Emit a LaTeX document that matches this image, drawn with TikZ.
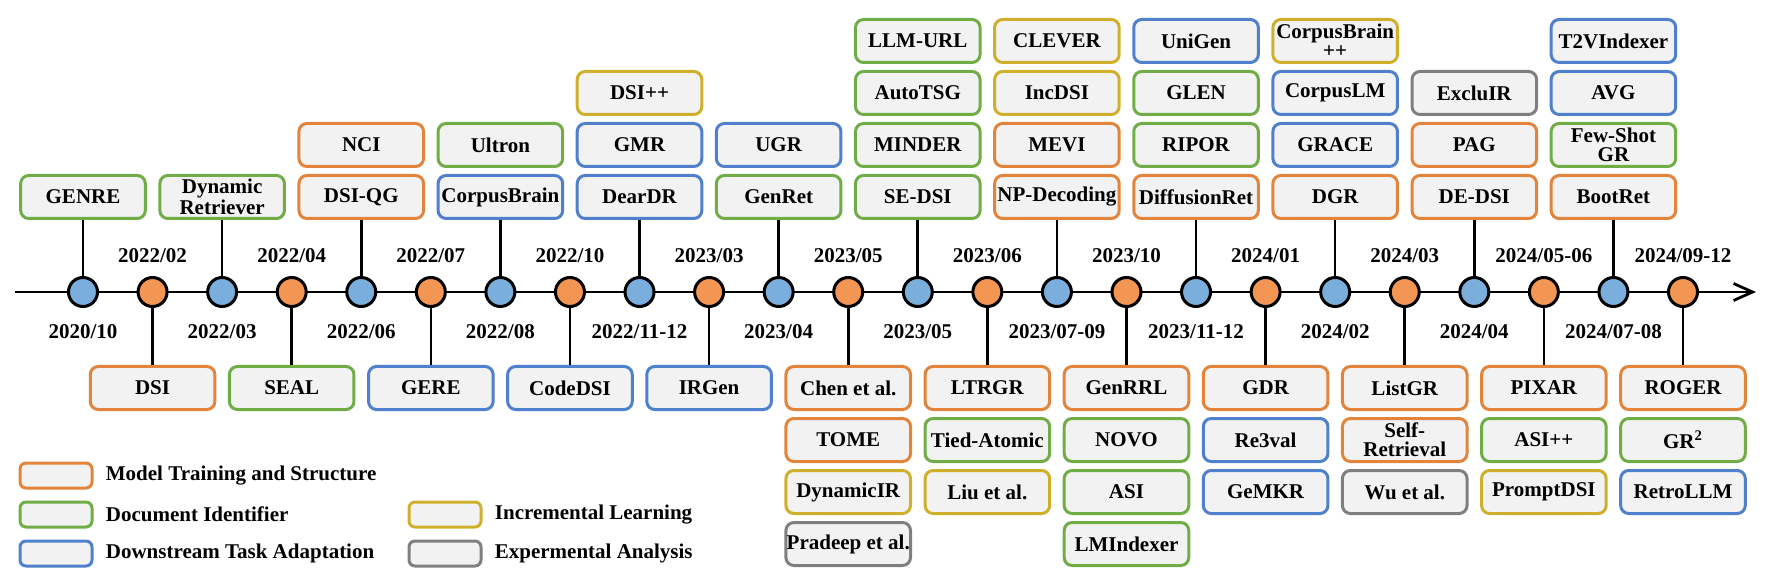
\documentclass[tikz,border=0pt]{standalone}
\usepackage{fontspec}
\setmainfont{Liberation Serif}
\usetikzlibrary{arrows.meta,positioning}

\definecolor{mtorange}{HTML}{E2843C}
\definecolor{digreen}{HTML}{70AD47}
\definecolor{dtblue}{HTML}{5080CC}
\definecolor{ilgold}{HTML}{CFB02D}
\definecolor{eagray}{HTML}{7F7F7F}
\definecolor{dotblue}{HTML}{7AAEDC}
\definecolor{dotorange}{HTML}{F39553}
\definecolor{boxgray}{HTML}{F2F2F2}

\begin{document}
\begin{tikzpicture}[x=0.5pt, y=-0.5pt, node distance=3pt,
  box/.style={draw, line width=1.5pt, rounded corners=4pt, fill=boxgray, align=center, minimum width=62.3pt, minimum height=21.5pt, inner xsep=0.3pt, inner ysep=1pt, font=\bfseries\fontsize{10.5}{9.5}\selectfont},
  mt/.style={box, draw=mtorange},
  di/.style={box, draw=digreen},
  dt/.style={box, draw=dtblue},
  il/.style={box, draw=ilgold},
  ea/.style={box, draw=eagray},
  dotb/.style={circle, draw, line width=1.5pt, fill=dotblue, minimum size=14.5pt, inner sep=0pt},
  doto/.style={dotb, fill=dotorange},
  date/.style={inner sep=0pt, font=\bfseries\fontsize{10.5}{12}\selectfont},
  stem/.style={line width=1.3pt},
  timeline/.style={line width=1.4pt, -{Straight Barb[length=9.5pt, width=8.5pt, line width=1.4pt]}},
  key/.style={draw, line width=1.5pt, rounded corners=3pt, fill=boxgray, minimum width=36pt, minimum height=12.5pt},
  keytext/.style={inner sep=0pt, anchor=west, font=\bfseries\fontsize{10.5}{12}\selectfont}
]
\useasboundingbox (0,0) rectangle (1768,588);

\coordinate (tlstart) at (15,292);
\coordinate (tlend) at (1756,292);
\draw[timeline] (tlstart) -- (tlend);

\foreach \d [count=\i] in {2020/10,2022/02,2022/03,2022/04,2022/06,2022/07,2022/08,2022/10,2022/11-12,2023/03,2023/04,2023/05,2023/05,2023/06,2023/07-09,2023/10,2023/11-12,2024/01,2024/02,2024/03,2024/04,2024/05-06,2024/07-08,2024/09-12}{
  \ifodd\i
    \node[dotb] (t\i) at ({83+69.565*(\i-1)},292) {};
    \node[date, below=8.3pt of t\i] (d\i) {\d};
  \else
    \node[doto] (t\i) at ({83+69.565*(\i-1)},292) {};
    \node[date, above=6.5pt of t\i] (d\i) {\d};
  \fi
}

\node[di, above=28pt of t1] (genre) {GENRE};
\node[di, above=28pt of t3] (dynret) {Dynamic\\Retriever};
\node[mt, above=28pt of t5] (dsiqg) {DSI-QG};
\node[mt, above=of dsiqg] (nci) {NCI};
\node[dt, above=28pt of t7] (corpusbrain) {CorpusBrain};
\node[di, above=of corpusbrain] (ultron) {Ultron};
\node[dt, above=28pt of t9] (deardr) {DearDR};
\node[dt, above=of deardr] (gmr) {GMR};
\node[il, above=of gmr] (dsipp) {DSI++};
\node[di, above=28pt of t11] (genret) {GenRet};
\node[dt, above=of genret] (ugr) {UGR};
\node[di, above=28pt of t13] (sedsi) {SE-DSI};
\node[di, above=of sedsi] (minder) {MINDER};
\node[di, above=of minder] (autotsg) {AutoTSG};
\node[di, above=of autotsg] (llmurl) {LLM-URL};
\node[mt, above=28pt of t15] (npdec) {NP-Decoding};
\node[mt, above=of npdec] (mevi) {MEVI};
\node[il, above=of mevi] (incdsi) {IncDSI};
\node[il, above=of incdsi] (clever) {CLEVER};
\node[mt, above=28pt of t17] (diffret) {DiffusionRet};
\node[di, above=of diffret] (ripor) {RIPOR};
\node[di, above=of ripor] (glen) {GLEN};
\node[dt, above=of glen] (unigen) {UniGen};
\node[mt, above=28pt of t19] (dgr) {DGR};
\node[dt, above=of dgr] (grace) {GRACE};
\node[dt, above=of grace] (corpuslm) {CorpusLM};
\node[il, above=of corpuslm] (cbpp) {CorpusBrain\\++};
\node[mt, above=28pt of t21] (dedsi) {DE-DSI};
\node[mt, above=of dedsi] (pag) {PAG};
\node[ea, above=of pag] (excluir) {ExcluIR};
\node[mt, above=28pt of t23] (bootret) {BootRet};
\node[di, above=of bootret] (fewshot) {Few-Shot\\GR};
\node[dt, above=of fewshot] (avg) {AVG};
\node[dt, above=of avg] (tvindexer) {T2VIndexer};

\node[mt, below=28.5pt of t2] (dsi) {DSI};
\node[di, below=28.5pt of t4] (seal) {SEAL};
\node[dt, below=28.5pt of t6] (gere) {GERE};
\node[dt, below=28.5pt of t8] (codedsi) {CodeDSI};
\node[dt, below=28.5pt of t10] (irgen) {IRGen};
\node[mt, below=28.5pt of t12] (chen) {Chen et al.};
\node[mt, below=of chen] (tome) {TOME};
\node[il, below=of tome] (dynir) {DynamicIR};
\node[ea, below=of dynir] (pradeep) {Pradeep et al.};
\node[mt, below=28.5pt of t14] (ltrgr) {LTRGR};
\node[di, below=of ltrgr] (tied) {Tied-Atomic};
\node[il, below=of tied] (liu) {Liu et al.};
\node[mt, below=28.5pt of t16] (genrrl) {GenRRL};
\node[di, below=of genrrl] (novo) {NOVO};
\node[di, below=of novo] (asi) {ASI};
\node[di, below=of asi] (lmindexer) {LMIndexer};
\node[mt, below=28.5pt of t18] (gdr) {GDR};
\node[dt, below=of gdr] (reval) {Re3val};
\node[dt, below=of reval] (gemkr) {GeMKR};
\node[mt, below=28.5pt of t20] (listgr) {ListGR};
\node[mt, below=of listgr] (selfret) {Self-\\Retrieval};
\node[ea, below=of selfret] (wu) {Wu et al.};
\node[mt, below=28.5pt of t22] (pixar) {PIXAR};
\node[di, below=of pixar] (asipp) {ASI++};
\node[il, below=of asipp] (promptdsi) {PromptDSI};
\node[mt, below=28.5pt of t24] (roger) {ROGER};
\node[di, below=of roger] (grsq) {GR\textsuperscript{2}};
\node[dt, below=of grsq] (retrollm) {RetroLLM};

\foreach \b/\t in {genre/t1,dsi/t2,dynret/t3,seal/t4,dsiqg/t5,gere/t6,corpusbrain/t7,codedsi/t8,deardr/t9,irgen/t10,genret/t11,chen/t12,sedsi/t13,ltrgr/t14,npdec/t15,genrrl/t16,diffret/t17,gdr/t18,dgr/t19,listgr/t20,dedsi/t21,pixar/t22,bootret/t23,roger/t24}
  \draw[stem] (\b) -- (\t);

\node[key, draw=mtorange] (kmt) at (56,475.5) {};
\node[keytext, right=6pt of kmt] (lmt) {Model Training and Structure};
\node[key, draw=digreen, below=5.5pt of kmt] (kdi) {};
\node[keytext, right=6pt of kdi] (ldi) {Document Identifier};
\node[key, draw=dtblue, below=5.5pt of kdi] (kdt) {};
\node[keytext, right=6pt of kdt] (ldt) {Downstream Task Adaptation};
\node[key, draw=ilgold] (kil) at (445,514.5) {};
\node[keytext, right=6pt of kil] (lil) {Incremental Learning};
\node[key, draw=eagray, below=5.5pt of kil] (kea) {};
\node[keytext, right=6pt of kea] (lea) {Expermental Analysis};

\end{tikzpicture}
\end{document}
